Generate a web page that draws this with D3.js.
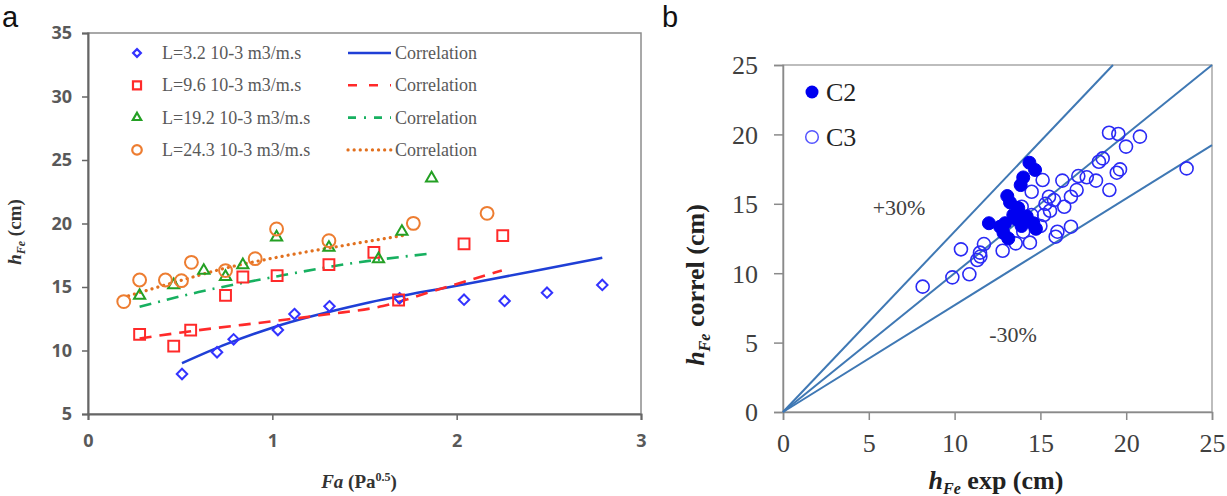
<!DOCTYPE html>
<html>
<head>
<meta charset="utf-8">
<script src="https://cdn.jsdelivr.net/npm/d3@7"></script>
<style>
  body { margin: 0; background: #fff; }
  svg { display: block; }
</style>
</head>
<body>
<svg id="chart" width="1227" height="496"></svg>
<script>
// ---- panel a : measured points (Fa, hFe) ----
const pointsL32 = [[0.51,8.15],[0.70,9.86],[0.79,10.88],[1.03,11.61],[1.12,12.87],[1.31,13.48],[1.69,14.11],[2.04,14.0],[2.26,13.9],[2.49,14.55],[2.79,15.16]];
const pointsL96 = [[0.28,11.27],[0.465,10.35],[0.557,11.61],[0.746,14.34],[0.84,15.79],[1.026,15.89],[1.307,16.76],[1.551,17.73],[1.685,13.98],[2.04,18.39],[2.25,19.04]];
const pointsL192 = [[0.28,14.32],[0.465,15.16],[0.628,16.29],[0.746,15.81],[0.84,16.73],[1.023,18.91],[1.307,18.1],[1.576,17.2],[1.703,19.36],[1.864,23.56]];
const pointsL243 = [[0.194,13.85],[0.28,15.55],[0.42,15.55],[0.507,15.5],[0.561,16.94],[0.746,16.29],[0.907,17.23],[1.023,19.57],[1.307,18.65],[1.765,20.01],[2.165,20.8]];

// correlation curves
const fitL32 = [[0.51,9.0],[0.75,10.5],[1.0,11.8],[1.5,13.7],[2.0,15.1],[2.4,16.2],[2.79,17.3]];
const fitL96 = [[0.28,10.95],[0.6,11.6],[1.0,12.3],[1.3,12.85],[1.6,13.5],[1.9,14.8],[2.245,16.3]];
const fitL192 = [[0.28,13.45],[0.6,14.6],[1.03,15.85],[1.4,16.8],[1.84,17.6]];
const fitL243 = [[0.22,14.3],[0.5,15.5],[0.75,16.5],[1.03,17.35],[1.4,18.3],[1.73,19.1]];

const legendLabelsA = ["L=3.2 10-3 m3/m.s", "L=9.6 10-3 m3/m.s", "L=19.2 10-3 m3/m.s", "L=24.3 10-3 m3/m.s"];
const ticksAx = [0, 1, 2, 3];
const ticksAy = [5, 10, 15, 20, 25, 30, 35];

// ---- panel b : hFe exp vs hFe correl ----
const pointsC2 = [[12.0,13.6],[12.65,13.35],[12.85,12.9],[13.13,12.5],[12.94,13.6],[13.07,15.56],[13.23,15.1],[13.42,14.2],[13.6,13.9],[13.71,14.7],[13.85,16.35],[13.9,13.4],[14.0,16.9],[14.2,14.1],[14.36,17.96],[14.59,13.6],[14.69,17.44],[14.74,13.2]];
const pointsC3 = [[8.14,9.03],[9.87,9.7],[10.86,9.92],[10.37,11.72],[11.32,10.95],[11.48,11.48],[11.71,12.1],[11.5,11.2],[12.8,11.62],[13.56,12.15],[14.39,12.2],[14.0,12.99],[13.91,14.79],[14.49,15.87],[15.13,16.71],[15.21,14.19],[15.56,14.5],[15.5,15.51],[15.79,15.27],[16.28,16.67],[16.39,14.79],[16.78,15.51],[17.11,15.99],[17.21,17.0],[17.7,16.91],[18.24,16.67],[18.41,18.03],[18.63,18.27],[19.02,15.99],[19.45,17.24],[19.64,17.48],[19.0,20.12],[19.54,20.03],[19.99,19.12],[20.8,19.84],[23.52,17.55],[15.89,12.63],[15.99,12.99],[16.78,13.35],[14.49,14.19],[15.0,13.4],[15.3,15.0]];
const lineEqual = [[0,0],[25,25]];
const linePlus30 = [[0,0],[19.23,25]];
const lineMinus30 = [[0,0],[25,19.23]];
const ticksB = [0, 5, 10, 15, 20, 25];

const svg = d3.select("#chart");
const serif = "'Liberation Serif', 'DejaVu Serif', serif";
const sans = "'Open Sans', 'Liberation Sans', sans-serif";

// ================= panel a =================
const xA = d3.scaleLinear().domain([0, 3]).range([88, 641]);
const yA = d3.scaleLinear().domain([5, 35]).range([414, 33]);

// frame
svg.append("rect")
	.attr("x", xA(0)).attr("y", yA(35))
	.attr("width", xA(3) - xA(0)).attr("height", yA(5) - yA(35))
	.attr("fill", "none").attr("stroke", "#8c8c8c").attr("stroke-width", 1.5);

const axA_x = svg.append("g")
	.attr("transform", `translate(0,${yA(5)})`)
	.call(d3.axisBottom(xA).tickValues(ticksAx).tickFormat(d3.format("d")).tickSizeOuter(0).tickSize(6).tickPadding(14));
const axA_y = svg.append("g")
	.attr("transform", `translate(${xA(0)},0)`)
	.call(d3.axisLeft(yA).tickValues(ticksAy).tickFormat(d3.format("d")).tickSizeOuter(0).tickSize(6).tickPadding(10));
[axA_x, axA_y].forEach(g => {
	g.select(".domain").attr("stroke", "#666").attr("stroke-width", 2);
	g.selectAll(".tick line").attr("stroke", "#666").attr("stroke-width", 1.5);
	g.selectAll(".tick text")
		.attr("fill", "#595959")
		.style("font-family", sans)
		.style("font-weight", 700)
		.style("font-size", "18px");
});

const seriesA = [
	{ pts: pointsL32, fit: fitL32, color: "#3333ff", line: "#1f3fd6", sym: d3.symbolDiamond2, size: 70, dash: null },
	{ pts: pointsL96, fit: fitL96, color: "#ff2a2a", line: "#ff2a2a", sym: d3.symbolSquare2, size: 150, dash: "12,8" },
	{ pts: pointsL192, fit: fitL192, color: "#24a024", line: "#17b060", sym: d3.symbolTriangle2, size: 90, dash: "12,7,2,7" },
	{ pts: pointsL243, fit: fitL243, color: "#ed7d31", line: "#e2701e", sym: d3.symbolCircle, size: 130, dash: "0.1,6" }
];

const lineA = d3.line().x(d => xA(d[0])).y(d => yA(d[1])).curve(d3.curveMonotoneX);

seriesA.forEach(s => {
	svg.append("path")
		.datum(s.fit)
		.attr("d", lineA)
		.attr("fill", "none")
		.attr("stroke", s.line)
		.attr("stroke-width", s.dash === "0.1,6" ? 3.2 : 2.6)
		.attr("stroke-linecap", s.dash === "0.1,6" ? "round" : "butt")
		.attr("stroke-dasharray", s.dash);
});

seriesA.forEach(s => {
	svg.append("g").selectAll("path")
		.data(s.pts)
		.join("path")
		.attr("transform", d => `translate(${xA(d[0])},${yA(d[1])})`)
		.attr("d", d3.symbol(s.sym, s.size))
		.attr("fill", "none")
		.attr("stroke", s.color)
		.attr("stroke-width", 2);
});

// legend a
const legA = svg.append("g");
seriesA.forEach((s, i) => {
	const y = 53 + i * 32.3;
	legA.append("path")
		.attr("transform", `translate(137,${y})`)
		.attr("d", d3.symbol(s.sym, s.size * 0.55))
		.attr("fill", "none").attr("stroke", s.color).attr("stroke-width", 2.2);
	legA.append("text")
		.attr("x", 162).attr("y", y + 6)
		.attr("fill", "#595959")
		.style("font-family", serif).style("font-size", "18px")
		.text(legendLabelsA[i]);
	legA.append("line")
		.attr("x1", 348).attr("x2", 391).attr("y1", y).attr("y2", y)
		.attr("stroke", s.line)
		.attr("stroke-width", s.dash === "0.1,6" ? 3.2 : 2.6)
		.attr("stroke-linecap", s.dash === "0.1,6" ? "round" : "butt")
		.attr("stroke-dasharray", s.dash === "12,8" ? "9,12" : s.dash === "12,7,2,7" ? "8,8,2,8" : s.dash);
	legA.append("text")
		.attr("x", 395).attr("y", y + 6)
		.attr("fill", "#595959")
		.style("font-family", serif).style("font-size", "18px")
		.text("Correlation");
});

// axis titles a
const tXA = svg.append("text")
	.attr("x", 359).attr("y", 488)
	.attr("text-anchor", "middle")
	.attr("fill", "#333")
	.style("font-family", serif).style("font-size", "19px").style("font-weight", "bold");
tXA.append("tspan").style("font-style", "italic").text("Fa");
tXA.append("tspan").text(" (Pa");
tXA.append("tspan").attr("dy", -7).style("font-size", "12px").text("0.5");
tXA.append("tspan").attr("dy", 7).text(")");

const tYA = svg.append("text")
	.attr("transform", "translate(21,232) rotate(-90)")
	.attr("text-anchor", "middle")
	.attr("fill", "#333")
	.style("font-family", serif).style("font-size", "19px").style("font-weight", "bold");
tYA.append("tspan").style("font-style", "italic").text("h");
tYA.append("tspan").attr("dy", 4).style("font-style", "italic").style("font-size", "12px").text("Fe");
tYA.append("tspan").attr("dy", -4).text(" (cm)");

svg.append("text").attr("x", 2).attr("y", 27)
	.style("font-family", "'Liberation Sans', Arial, sans-serif").style("font-size", "29px")
	.attr("fill", "#111").text("a");

// ================= panel b =================
const xB = d3.scaleLinear().domain([0, 25]).range([783, 1212]);
const yB = d3.scaleLinear().domain([0, 25]).range([412, 65]);

svg.append("rect")
	.attr("x", xB(0)).attr("y", yB(25))
	.attr("width", xB(25) - xB(0)).attr("height", yB(0) - yB(25))
	.attr("fill", "none").attr("stroke", "#9a9a9a").attr("stroke-width", 1.3);

const axB_x = svg.append("g")
	.attr("transform", `translate(0,${yB(0)})`)
	.call(d3.axisBottom(xB).tickValues(ticksB).tickSizeOuter(0).tickSize(8).tickPadding(14));
const axB_y = svg.append("g")
	.attr("transform", `translate(${xB(0)},0)`)
	.call(d3.axisLeft(yB).tickValues(ticksB).tickSizeOuter(0).tickSize(9).tickPadding(16));
[axB_x, axB_y].forEach(g => {
	g.select(".domain").attr("stroke", "#8a8a8a").attr("stroke-width", 1.5);
	g.selectAll(".tick line").attr("stroke", "#8a8a8a").attr("stroke-width", 1.5);
	g.selectAll(".tick text")
		.attr("fill", "#404040")
		.style("font-family", serif)
		.style("font-size", "26px");
});
axB_y.selectAll(".tick text").attr("dy", "0.34em");

const lineB = d3.line().x(d => xB(d[0])).y(d => yB(d[1]));
[lineEqual, linePlus30, lineMinus30].forEach(l => {
	svg.append("path").datum(l).attr("d", lineB)
		.attr("fill", "none").attr("stroke", "#3f78b4").attr("stroke-width", 2);
});

svg.append("g").selectAll("circle")
	.data(pointsC3)
	.join("circle")
	.attr("cx", d => xB(d[0])).attr("cy", d => yB(d[1])).attr("r", 6.5)
	.attr("fill", "none").attr("stroke", "#2a2af5").attr("stroke-width", 1.6);
svg.append("g").selectAll("circle")
	.data(pointsC2)
	.join("circle")
	.attr("cx", d => xB(d[0])).attr("cy", d => yB(d[1])).attr("r", 6.5)
	.attr("fill", "#0000f0").attr("stroke", "#0000f0").attr("stroke-width", 1);

// legend b
svg.append("circle").attr("cx", 812).attr("cy", 92).attr("r", 6.5).attr("fill", "#0000f0");
svg.append("circle").attr("cx", 812).attr("cy", 137).attr("r", 6.3)
	.attr("fill", "none").attr("stroke", "#5555ff").attr("stroke-width", 1.5);
svg.append("text").attr("x", 826).attr("y", 101).attr("fill", "#222")
	.style("font-family", serif).style("font-size", "26px").text("C2");
svg.append("text").attr("x", 826).attr("y", 146).attr("fill", "#222")
	.style("font-family", serif).style("font-size", "26px").text("C3");

svg.append("text").attr("x", 899).attr("y", 215).attr("text-anchor", "middle")
	.attr("fill", "#404040").style("font-family", serif).style("font-size", "22px").text("+30%");
svg.append("text").attr("x", 1013).attr("y", 342).attr("text-anchor", "middle")
	.attr("fill", "#404040").style("font-family", serif).style("font-size", "22px").text("-30%");

const tXB = svg.append("text")
	.attr("x", 996).attr("y", 489)
	.attr("text-anchor", "middle")
	.attr("fill", "#222")
	.style("font-family", serif).style("font-size", "26px").style("font-weight", "bold");
tXB.append("tspan").style("font-style", "italic").text("h");
tXB.append("tspan").attr("dy", 5).style("font-style", "italic").style("font-size", "16px").text("Fe");
tXB.append("tspan").attr("dy", -5).text(" exp (cm)");

const tYB = svg.append("text")
	.attr("transform", "translate(704,285) rotate(-90)")
	.attr("text-anchor", "middle")
	.attr("fill", "#222")
	.style("font-family", serif).style("font-size", "26px").style("font-weight", "bold");
tYB.append("tspan").style("font-style", "italic").text("h");
tYB.append("tspan").attr("dy", 6).style("font-style", "italic").style("font-size", "16px").text("Fe");
tYB.append("tspan").attr("dy", -6).text(" correl (cm)");

svg.append("text").attr("x", 662).attr("y", 27)
	.style("font-family", "'Liberation Sans', Arial, sans-serif").style("font-size", "29px")
	.attr("fill", "#111").text("b");
</script>
</body>
</html>
